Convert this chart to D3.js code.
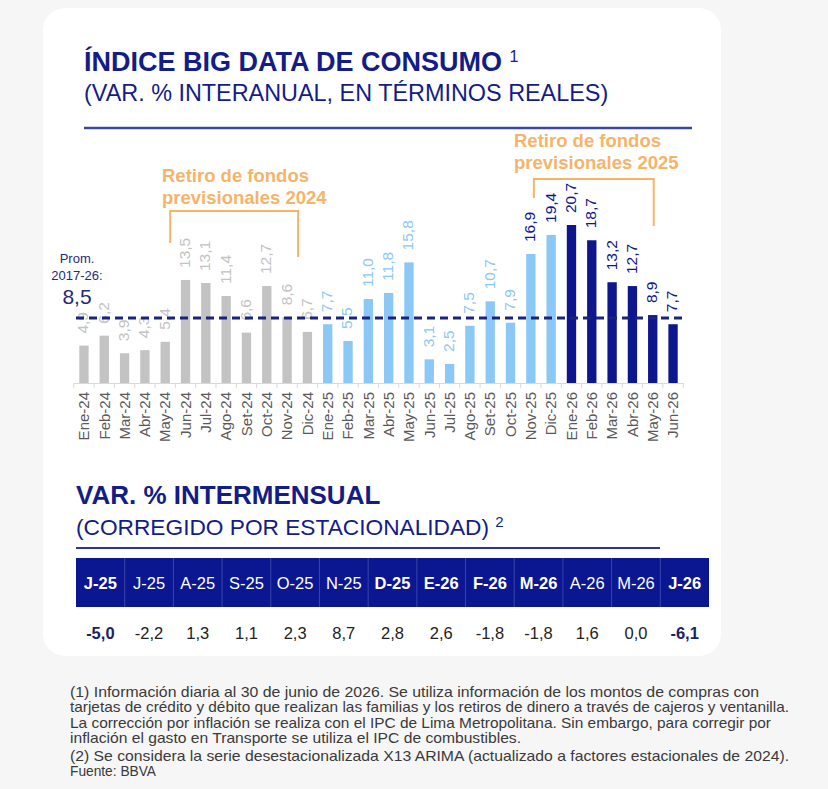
<!DOCTYPE html>
<html>
<head>
<meta charset="utf-8">
<script src="https://cdn.jsdelivr.net/npm/d3@7"></script>
<style>
  html, body { margin: 0; padding: 0; background: #f6f6f6; }
  svg { display: block; font-family: "Liberation Sans", Arial, sans-serif; }
</style>
</head>
<body>
<svg id="chart" width="828" height="789"></svg>
<script>
"use strict";

// Monthly year-on-year variation (real terms)
const months = ["Ene-24", "Feb-24", "Mar-24", "Abr-24", "May-24", "Jun-24", "Jul-24", "Ago-24", "Set-24", "Oct-24", "Nov-24", "Dic-24",
  "Ene-25", "Feb-25", "Mar-25", "Abr-25", "May-25", "Jun-25", "Jul-25", "Ago-25", "Set-25", "Oct-25", "Nov-25", "Dic-25",
  "Ene-26", "Feb-26", "Mar-26", "Abr-26", "May-26", "Jun-26"];
const yoyValues = [4.9, 6.2, 3.9, 4.3, 5.4, 13.5, 13.1, 11.4, 6.6, 12.7, 8.6, 6.7,
  7.7, 5.5, 11.0, 11.8, 15.8, 3.1, 2.5, 7.5, 10.7, 7.9, 16.9, 19.4,
  20.7, 18.7, 13.2, 12.7, 8.9, 7.7];
const average = 8.5;

// Pension withdrawals windows (months the bracket runs over)
const withdrawals = [
  { lines: ["Retiro de fondos", "previsionales 2024"], from: "May-24", to: "Nov-24" },
  { lines: ["Retiro de fondos", "previsionales 2025"], from: "Nov-25", to: "May-26" }
];

// Month-on-month, seasonally adjusted
const mmLabels = ["J-25", "J-25", "A-25", "S-25", "O-25", "N-25", "D-25", "E-26", "F-26", "M-26", "A-26", "M-26", "J-26"];
const mmValues = [-5.0, -2.2, 1.3, 1.1, 2.3, 8.7, 2.8, 2.6, -1.8, -1.8, 1.6, 0.0, -6.1];
const mmBoldHeaders = [0, 6, 7, 8, 9, 12];
const mmBoldValues = [0, 12];

const notes = [
  "(1) Información diaria al 30 de junio de 2026. Se utiliza información de los montos de compras con",
  "tarjetas de crédito y débito que realizan las familias y los retiros de dinero a través de cajeros y ventanilla.",
  "La corrección por inflación se realiza con el IPC de Lima Metropolitana. Sin embargo, para corregir por",
  "inflación el gasto en Transporte se utiliza el IPC de combustibles.",
  "(2) Se considera la serie desestacionalizada X13 ARIMA (actualizado a factores estacionales de 2024).",
  "Fuente: BBVA"
];

const NAVY = "#0d168c";
const TITLE = "#141c86";
const ORANGE = "#f5b46a";
const colors = { "24": "#c3c3c3", "25": "#8cc8f6", "26": "#0d168c" };

// comma decimals and a plain hyphen for negatives, like the original
const locale = d3.formatLocale({ decimal: ",", thousands: ".", grouping: [3], currency: ["", ""], minus: "-" });
const fmt = locale.format(".1f");

const svg = d3.select("#chart");

// White card behind everything except the footnotes
svg.append("rect")
  .attr("x", 43).attr("y", 8).attr("width", 678).attr("height", 648)
  .attr("rx", 22).attr("fill", "#ffffff");

// ---- Title block
const title = svg.append("text").attr("x", 84).attr("y", 71)
  .attr("fill", TITLE).attr("font-size", 27).attr("font-weight", "bold");
title.append("tspan").text("ÍNDICE BIG DATA DE CONSUMO ");
title.append("tspan").text("1").attr("font-size", 16).attr("font-weight", "normal").attr("dy", -9);

svg.append("text").attr("x", 84).attr("y", 101)
  .attr("fill", TITLE).attr("font-size", 23.4)
  .text("(VAR. % INTERANUAL, EN TÉRMINOS REALES)");

svg.append("line").attr("x1", 84).attr("x2", 692).attr("y1", 128).attr("y2", 128)
  .attr("stroke", "#3b47a6").attr("stroke-width", 2.5);

// ---- Bar chart
const x = d3.scaleBand().domain(months).range([73.8, 683.2])
  .paddingInner(0.54).paddingOuter(0.27);
const y = d3.scaleLinear().domain([0, 20.7]).range([383, 225]);
const cx = (m) => x(m) + x.bandwidth() / 2;
const yearOf = (m) => m.slice(-2);

const data = months.map((m, i) => ({ month: m, value: yoyValues[i], idx: i }));

svg.append("g").selectAll("rect").data(data).join("rect")
  .attr("x", (d) => x(d.month))
  .attr("y", (d) => y(d.value))
  .attr("width", x.bandwidth())
  .attr("height", (d) => y(0) - y(d.value))
  .attr("fill", (d) => colors[yearOf(d.month)]);

// value labels: light blue bars from Nov-25 on get navy labels
const darkFrom = months.indexOf("Nov-25");
svg.append("g").selectAll("text").data(data).join("text")
  .attr("transform", (d) => `translate(${cx(d.month) - 1},${y(d.value) - 12}) rotate(-90)`)
  .attr("dy", "0.35em")
  .attr("font-size", 15.5)
  .attr("fill", (d) => d.idx >= darkFrom ? NAVY : colors[yearOf(d.month)])
  .text((d) => fmt(d.value));

// average line
svg.append("line")
  .attr("x1", 76).attr("x2", 682)
  .attr("y1", y(average)).attr("y2", y(average))
  .attr("stroke", "#1a237e").attr("stroke-width", 3)
  .attr("stroke-dasharray", "8,5");

const prom = svg.append("g").attr("fill", "#1f2a7a").attr("text-anchor", "middle");
prom.append("text").attr("x", 77).attr("y", 263).attr("font-size", 13).text("Prom.");
prom.append("text").attr("x", 77).attr("y", 280).attr("font-size", 13).text("2017-26:");
prom.append("text").attr("x", 77).attr("y", 304).attr("font-size", 21).text(fmt(average));

// x axis
const xAxis = svg.append("g").attr("transform", `translate(0,${y(0)})`)
  .call(d3.axisBottom(x).tickSize(0).tickPadding(0));
xAxis.select(".domain").attr("stroke", "#d9d9d9");
xAxis.selectAll(".tick text")
  .attr("transform", "translate(0,9) rotate(-90)")
  .attr("text-anchor", "end")
  .attr("dy", "0.35em")
  .attr("y", 0)
  .attr("font-family", "Liberation Sans, Arial, sans-serif")
  .attr("font-size", 15)
  .attr("fill", "#595959");
// small ticks between categories
const step = x.step();
xAxis.append("g").selectAll("line").data(months.concat(["end"])).join("line")
  .attr("x1", (d, i) => x.range()[0] + i * step)
  .attr("x2", (d, i) => x.range()[0] + i * step)
  .attr("y1", 0).attr("y2", 5)
  .attr("stroke", "#d9d9d9");

// withdrawal brackets (hand placed a bit off the bar centres, like the source)
const bracketLayout = [
  { dl: 5, dr: 11, top: 211, leftEnd: 243, rightEnd: 257, textX: 162, textY: 182 },
  { dl: 3, dr: 1, top: 179, leftEnd: 198, rightEnd: 226, textX: 514, textY: 147 }
];
withdrawals.forEach(function (w, k) {
  const b = bracketLayout[k];
  const x1 = cx(w.from) + b.dl, x2 = cx(w.to) + b.dr;
  svg.append("path")
    .attr("d", `M${x1},${b.leftEnd}V${b.top}H${x2}V${b.rightEnd}`)
    .attr("fill", "none").attr("stroke", ORANGE).attr("stroke-width", 2);
  const t = svg.append("text")
    .attr("fill", ORANGE).attr("font-size", 18.5).attr("font-weight", "bold");
  w.lines.forEach(function (line, j) {
    t.append("tspan").attr("x", b.textX).attr("y", b.textY + j * 22).text(line);
  });
});

// ---- Month-on-month table
svg.append("text").attr("x", 76).attr("y", 504)
  .attr("fill", TITLE).attr("font-size", 26).attr("font-weight", "bold")
  .text("VAR. % INTERMENSUAL");

const sub2 = svg.append("text").attr("x", 76).attr("y", 535)
  .attr("fill", TITLE).attr("font-size", 22.7);
sub2.append("tspan").text("(CORREGIDO POR ESTACIONALIDAD) ");
sub2.append("tspan").text("2").attr("font-size", 15).attr("dy", -8);

svg.append("line").attr("x1", 76).attr("x2", 660).attr("y1", 548).attr("y2", 548)
  .attr("stroke", "#2c3590").attr("stroke-width", 2);

const col = d3.scaleBand().domain(d3.range(mmLabels.length)).range([76, 709]);

svg.append("rect").attr("x", 76).attr("y", 558).attr("width", 633).attr("height", 49).attr("fill", "#0b1790");
svg.append("g").selectAll("line").data(d3.range(1, mmLabels.length)).join("line")
  .attr("x1", (i) => col(i)).attr("x2", (i) => col(i))
  .attr("y1", 558).attr("y2", 607)
  .attr("stroke", "#3a46aa").attr("stroke-width", 1);

svg.append("g").selectAll("text").data(mmLabels).join("text")
  .attr("x", (d, i) => col(i) + col.bandwidth() / 2)
  .attr("y", 589)
  .attr("text-anchor", "middle")
  .attr("fill", "#ffffff")
  .attr("font-size", 16.5)
  .attr("font-weight", (d, i) => mmBoldHeaders.includes(i) ? "bold" : "normal")
  .text((d) => d);

svg.append("g").selectAll("text").data(mmValues).join("text")
  .attr("x", (d, i) => col(i) + col.bandwidth() / 2)
  .attr("y", 639)
  .attr("text-anchor", "middle")
  .attr("fill", (d, i) => mmBoldValues.includes(i) ? "#1b2166" : "#222222")
  .attr("font-size", 16.5)
  .attr("font-weight", (d, i) => mmBoldValues.includes(i) ? "bold" : "normal")
  .text((d) => fmt(d));

// ---- Footnotes (narrow font in the original, squeezed to the same widths)
const noteWidths = [689, 719, 701, 451, 719, 86];
const noteY = [697, 712, 728, 743, 761, 776];
svg.append("g").selectAll("text").data(notes).join("text")
  .attr("x", 70)
  .attr("y", (d, i) => noteY[i])
  .attr("font-size", 14.5)
  .attr("fill", "#3a3a3a")
  .attr("textLength", (d, i) => noteWidths[i])
  .attr("lengthAdjust", "spacingAndGlyphs")
  .text((d) => d);
</script>
</body>
</html>
